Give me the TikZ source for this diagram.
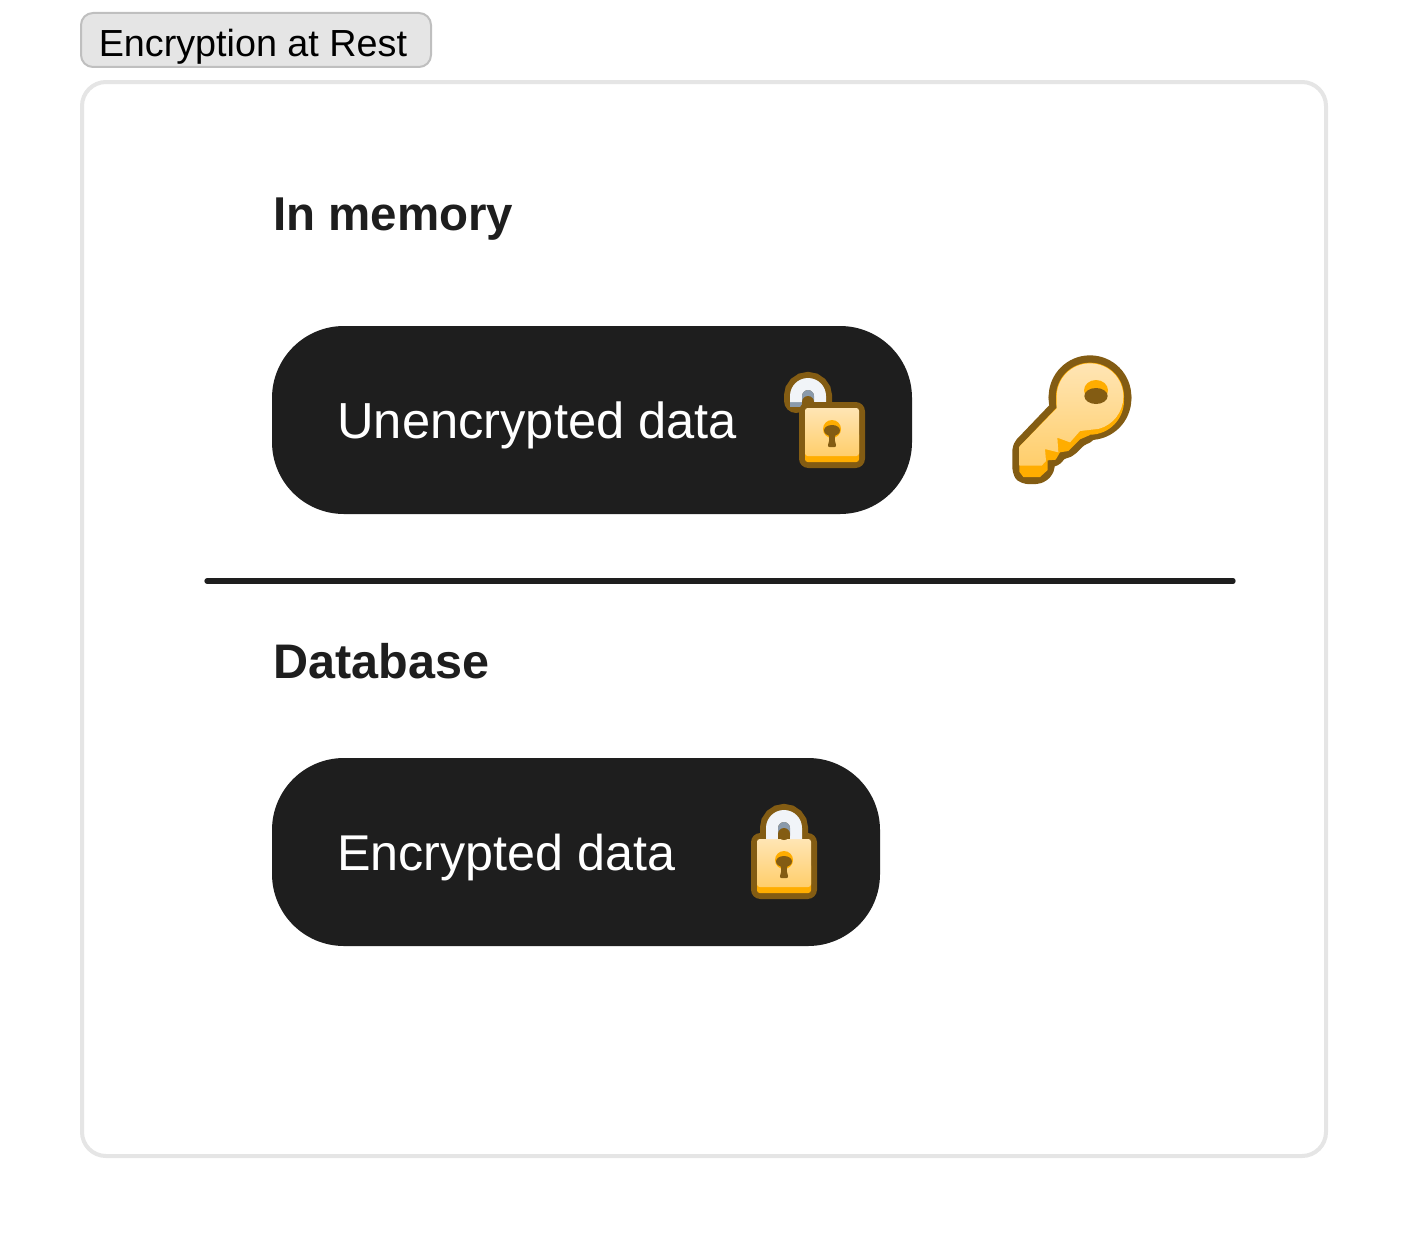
\documentclass[tikz,border=0pt]{standalone}
\usepackage{fontspec}
\setmainfont{Liberation Sans}
\definecolor{inkdark}{HTML}{1E1E1E}
\definecolor{icobrown}{HTML}{835C13}
\definecolor{icoorange}{HTML}{FFAD00}
\definecolor{icotop}{HTML}{FFE5B4}
\definecolor{icobot}{HTML}{FFCE6B}
\definecolor{icowhite}{HTML}{F1F4F8}
\definecolor{icogray}{HTML}{8A9AAB}
\tikzset{
  panel/.style={draw=black!10,line width=3pt,rounded corners=18pt,fill=white},
  titlebox/.style={draw=black!25,line width=1.5pt,rounded corners=9pt,fill=black!10},
  pillbox/.style={fill=inkdark,rounded corners=54pt},
  rule/.style={draw=inkdark,line width=4pt,line cap=round},
  titletext/.style={anchor=base west,inner sep=0pt,font=\fontsize{28.3pt}{34pt}\selectfont,text=black},
  headtext/.style={anchor=base west,inner sep=0pt,font=\fontsize{35.6pt}{42pt}\selectfont\bfseries,text=inkdark},
  pilltext/.style={anchor=base west,inner sep=0pt,font=\fontsize{37.9pt}{44pt}\selectfont,text=white},
  lockbody/.pic={
    \fill[icobrown,rounded corners=7pt] (0,0) rectangle (66,66);
    \fill[icoorange,rounded corners=2pt] (6,30) rectangle (60,60);
    \shade[top color=icotop,bottom color=icobot,rounded corners=2pt] (6,6) rectangle (60,54);
    \fill[icoorange] (33,27) circle[radius=9];
    \fill[icobrown] (33,28.5) ellipse[x radius=8,y radius=5.5];
    \fill[icobrown,rounded corners=1.5pt] (29,30) -- (37,30) -- (35.5,37) -- (37.5,45) -- (28.5,45) -- (30.5,37) -- cycle;
  }
}
\begin{document}
\begin{tikzpicture}[x=0.75pt,y=-0.75pt]
\useasboundingbox (0,0) rectangle (1408,1238);
\path[panel] (82,82) rectangle (1326,1156);
\path[titlebox] (81,13) rectangle (431,67);
\node[titletext] (title) at (98.5,57) {Encryption at Rest};
\node[headtext] (mem) at (273,230.5) {In memory};
\path[pillbox] (272,326) rectangle (912,514);
\node[pilltext,font=\fontsize{38pt}{44pt}\selectfont] (unenc) at (337,438) {Unencrypted data};
\path[rule] (207,581) -- (1233,581);
\node[headtext,font=\fontsize{36.4pt}{42pt}\selectfont\bfseries] (db) at (273,678.5) {Database};
\path[pillbox] (272,758) rectangle (880,946);
\node[pilltext,font=\fontsize{37.7pt}{44pt}\selectfont] (enc) at (337,870) {Encrypted data};
% open lock
\begin{scope}
  \draw[icobrown,line width=18pt,line cap=round] (796,401) -- (796,396) arc[start angle=180,end angle=360,radius=12] -- (820,420);
  \fill[icogray] (790,396) rectangle (802,407);
  \fill[icowhite] (790,402) -- (802,402) -- (802,396) arc[start angle=180,end angle=360,radius=6] -- (814,408) -- (826,408) -- (826,396) arc[start angle=360,end angle=180,radius=18] -- cycle;
  \fill[icogray] (802,396) arc[start angle=180,end angle=360,radius=6] -- (814,404) -- (802,404) -- cycle;
  \fill[icobrown] (808,402) circle[radius=6];
  \fill[icobrown] (802,402) rectangle (814,410);
  \pic at (799,402) {lockbody};
\end{scope}
% closed lock
\begin{scope}
  \draw[icobrown,line width=18pt] (772,840) -- (772,828) arc[start angle=180,end angle=360,radius=12] -- (796,840);
  \pic at (751,833) {lockbody};
  \fill[icowhite] (766,839) -- (766,828) arc[start angle=180,end angle=360,radius=18] -- (802,839) -- (790,839) -- (790,828) arc[start angle=360,end angle=180,radius=6] -- (778,839) -- cycle;
  \fill[icogray] (778,828) arc[start angle=180,end angle=360,radius=6] -- (790,836) -- (778,836) -- cycle;
  \fill[icobrown] (784,834) circle[radius=6];
  \fill[icobrown] (778,834) rectangle (790,839);
\end{scope}
% key
\begin{scope}[shift={(1000,345)},x=0.25pt,y=-0.25pt]
  \fill[icobrown] (270,155) circle[radius=124];
  \fill[icobrown] (270,161) circle[radius=124];
  \path[draw=icobrown,fill=icoorange,line width=10.5pt,line join=round,rounded corners=3pt]
    (168,190) -- (58,305) -- (58,380) -- (70,396) -- (120,396) -- (143,375) -- (143,346) -- (167,344) -- (180,322) -- (205,318) -- (240,283) -- (270,270) -- (300,150) -- cycle;
  \fill[icoorange] (270,155) circle[radius=102];
  \fill[icoorange] (270,167) circle[radius=102];
  \fill[icoorange] (168,190) -- (58,305) -- (58,380) -- (70,396) -- (120,396) -- (143,375) -- (143,346) -- (167,344) -- (180,322) -- (205,318) -- (240,283) -- (270,270) -- (300,150) -- cycle;
  \shade[top color=icotop,bottom color=icobot] (170,155) arc[start angle=180,end angle=435,radius=100] -- (240,258) -- (210,292) -- (172,278) -- (175,322) -- (135,312) -- (138,348) -- (125,362) -- (58,362) -- (58,305) -- (170,190) -- cycle;
  \fill[icoorange] (288,136) ellipse[x radius=36,y radius=31];
  \fill[icobrown] (288,153) ellipse[x radius=35,y radius=24];
\end{scope}
\end{tikzpicture}
\end{document}
